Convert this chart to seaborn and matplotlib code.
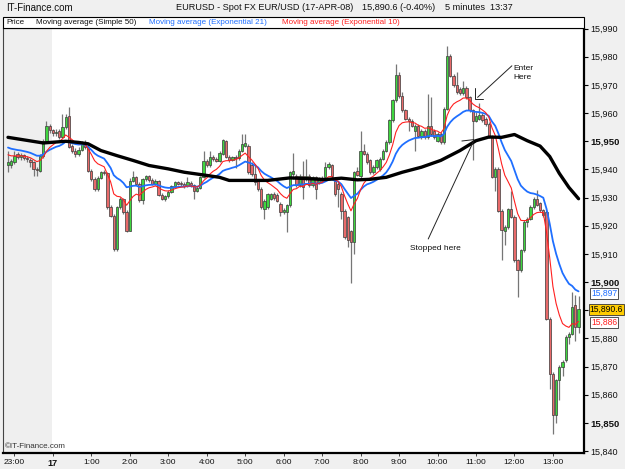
import numpy as np
import pandas as pd
import matplotlib
matplotlib.use("Agg")
import matplotlib.pyplot as plt
import matplotlib.transforms as mtransforms
from matplotlib.patches import Rectangle
import seaborn as sns

# ---------------- data (5-minute bars, 22:50 -> 13:40) ----------------
bar_open = [
    15941.5, 15941.4, 15942.5, 15945.5, 15944.3, 15945.0, 15944.0, 15943.5, 15942.5, 15940.3,
    15939.6, 15944.9, 15950.0, 15955.5, 15954.0, 15952.8, 15953.8, 15951.6, 15955.0, 15959.0,
    15948.5, 15946.5, 15945.5, 15947.0, 15949.6, 15948.0, 15939.6, 15936.6, 15933.1, 15937.0,
    15939.2, 15938.6, 15926.6, 15923.6, 15911.8, 15926.6, 15929.5, 15924.8, 15918.3, 15936.0,
    15937.2, 15935.0, 15929.0, 15936.6, 15937.5, 15936.2, 15935.0, 15935.8, 15931.0, 15929.5,
    15930.5, 15932.0, 15934.0, 15935.4, 15935.0, 15934.8, 15934.2, 15935.2, 15934.4, 15932.5,
    15933.5, 15937.2, 15943.1, 15941.5, 15944.5, 15943.8, 15943.1, 15945.5, 15950.0, 15944.5,
    15943.3, 15944.4, 15943.9, 15946.7, 15948.5, 15948.5, 15941.5, 15938.4, 15936.0, 15933.1,
    15926.0, 15926.6, 15929.5, 15931.3, 15931.0, 15927.8, 15924.8, 15924.8, 15927.2, 15938.4,
    15937.8, 15934.3, 15937.8, 15936.6, 15937.8, 15934.3, 15937.2, 15935.4, 15936.0, 15937.2,
    15940.8, 15941.4, 15936.0, 15934.8, 15931.3, 15925.4, 15923.0, 15918.0, 15914.2, 15939.5,
    15937.5, 15946.7, 15945.5, 15943.2, 15939.0, 15940.8, 15940.0, 15943.8, 15946.7, 15949.7,
    15957.4, 15964.5, 15973.5, 15966.2, 15961.0, 15958.0, 15957.3, 15953.8, 15955.6, 15952.0,
    15953.8, 15951.4, 15955.5, 15953.8, 15950.2, 15952.6, 15949.7, 15961.5, 15980.4, 15973.3,
    15970.0, 15968.5, 15967.0, 15969.0, 15965.6, 15961.0, 15957.3, 15958.0, 15959.5, 15958.0,
    15956.2, 15951.5, 15937.3, 15940.2, 15925.4, 15918.3, 15919.5, 15925.8, 15923.1, 15907.7,
    15904.2, 15911.3, 15921.3, 15922.5, 15926.6, 15929.6, 15928.0, 15925.5, 15924.9, 15887.0,
    15867.5, 15852.7, 15865.1, 15869.9, 15872.2, 15880.5, 15881.7, 15891.7, 15884.0,
]
bar_high = [
    15946.5, 15943.8, 15946.7, 15946.2, 15945.8, 15945.6, 15944.8, 15944.0, 15943.0, 15941.0,
    15945.5, 15950.8, 15957.3, 15956.0, 15954.5, 15954.2, 15954.5, 15959.7, 15959.8, 15962.0,
    15949.2, 15947.5, 15947.8, 15950.2, 15950.3, 15948.6, 15940.2, 15937.2, 15937.5, 15939.6,
    15939.9, 15939.2, 15927.3, 15924.2, 15927.0, 15930.2, 15930.0, 15925.5, 15937.0, 15939.4,
    15937.8, 15935.6, 15937.0, 15938.2, 15938.0, 15936.8, 15936.5, 15936.3, 15931.6, 15931.0,
    15932.6, 15934.5, 15936.0, 15936.0, 15935.8, 15935.6, 15937.2, 15935.8, 15935.0, 15934.2,
    15937.8, 15946.7, 15943.8, 15946.7, 15945.0, 15944.5, 15946.5, 15950.9, 15950.6, 15945.0,
    15944.9, 15945.0, 15947.2, 15952.6, 15952.6, 15949.2, 15942.6, 15942.0, 15936.6, 15933.7,
    15929.5, 15931.8, 15931.8, 15931.9, 15931.6, 15928.3, 15926.2, 15927.8, 15939.6, 15946.0,
    15938.4, 15938.4, 15943.1, 15943.7, 15938.4, 15937.8, 15937.8, 15937.2, 15937.6, 15942.5,
    15942.6, 15942.0, 15936.6, 15935.4, 15931.9, 15926.0, 15923.6, 15918.6, 15939.6, 15941.0,
    15953.8, 15949.1, 15946.1, 15943.8, 15941.4, 15943.8, 15944.4, 15947.3, 15950.3, 15958.0,
    15965.0, 15977.5, 15974.6, 15967.6, 15961.6, 15958.6, 15957.9, 15956.2, 15956.2, 15954.4,
    15954.4, 15966.8, 15965.6, 15954.4, 15953.2, 15953.2, 15962.1, 15984.0, 15981.0, 15973.9,
    15974.5, 15969.1, 15971.5, 15969.6, 15966.2, 15961.6, 15960.5, 15963.5, 15960.1, 15958.6,
    15956.8, 15952.1, 15940.8, 15940.8, 15926.0, 15920.1, 15926.4, 15932.5, 15923.7, 15908.3,
    15911.9, 15921.9, 15923.1, 15927.2, 15930.2, 15932.8, 15928.6, 15926.1, 15925.5, 15887.6,
    15868.1, 15865.7, 15870.5, 15872.2, 15881.1, 15882.3, 15896.5, 15895.5, 15895.0,
]
bar_low = [
    15939.0, 15940.5, 15941.8, 15943.8, 15943.5, 15943.3, 15942.8, 15941.0, 15937.8, 15937.5,
    15939.0, 15944.0, 15949.5, 15952.8, 15951.8, 15952.0, 15950.8, 15951.0, 15954.2, 15947.5,
    15945.8, 15944.5, 15944.8, 15946.5, 15947.3, 15939.0, 15936.0, 15932.5, 15932.5, 15936.5,
    15938.0, 15926.0, 15923.0, 15911.2, 15911.2, 15926.0, 15924.2, 15917.7, 15918.0, 15935.5,
    15934.5, 15928.5, 15927.8, 15936.0, 15935.6, 15934.5, 15934.5, 15930.5, 15929.0, 15928.8,
    15930.0, 15931.5, 15933.5, 15934.5, 15934.2, 15933.5, 15933.8, 15933.9, 15929.5, 15932.0,
    15933.0, 15936.8, 15940.8, 15941.0, 15943.0, 15942.5, 15942.8, 15945.0, 15944.0, 15942.8,
    15943.0, 15940.5, 15943.5, 15946.2, 15948.0, 15938.5, 15937.8, 15934.6, 15932.5, 15926.0,
    15922.4, 15926.0, 15929.0, 15929.2, 15928.3, 15923.6, 15924.2, 15917.7, 15926.6, 15936.5,
    15933.7, 15933.7, 15929.5, 15936.0, 15933.7, 15933.7, 15929.5, 15934.8, 15935.5, 15936.6,
    15940.2, 15937.2, 15930.7, 15926.6, 15922.4, 15915.3, 15912.4, 15899.5, 15910.0, 15937.5,
    15937.0, 15945.0, 15942.0, 15938.5, 15938.5, 15940.2, 15939.5, 15943.2, 15946.2, 15949.2,
    15957.0, 15964.0, 15965.5, 15960.5, 15957.5, 15953.8, 15955.0, 15946.7, 15951.4, 15950.8,
    15950.8, 15950.8, 15952.0, 15950.8, 15949.7, 15949.2, 15949.2, 15961.0, 15972.7, 15969.4,
    15966.8, 15966.4, 15966.5, 15965.0, 15960.5, 15943.5, 15956.8, 15957.5, 15957.0, 15955.6,
    15951.0, 15936.8, 15932.5, 15924.8, 15907.7, 15913.0, 15919.0, 15922.6, 15907.1, 15894.7,
    15903.6, 15910.7, 15919.5, 15921.9, 15926.0, 15927.0, 15925.0, 15923.2, 15886.4, 15862.0,
    15846.2, 15849.8, 15858.0, 15866.5, 15871.6, 15878.0, 15881.1, 15879.0, 15882.0,
]
bar_close = [
    15942.5, 15943.1, 15944.9, 15944.5, 15945.2, 15944.0, 15943.6, 15942.5, 15940.3, 15939.8,
    15944.9, 15950.0, 15955.5, 15954.0, 15952.8, 15953.4, 15951.6, 15955.0, 15958.5, 15947.9,
    15946.5, 15945.5, 15947.0, 15949.6, 15948.0, 15939.6, 15936.6, 15933.1, 15937.0, 15939.0,
    15938.6, 15926.6, 15923.6, 15911.8, 15926.6, 15929.5, 15924.8, 15918.3, 15936.0, 15937.2,
    15935.0, 15929.0, 15936.6, 15937.5, 15936.2, 15935.0, 15935.8, 15931.0, 15929.5, 15930.5,
    15932.0, 15934.0, 15935.4, 15935.0, 15934.8, 15934.2, 15935.4, 15934.4, 15932.5, 15933.5,
    15937.2, 15943.1, 15941.5, 15944.5, 15943.8, 15943.1, 15946.0, 15950.3, 15944.5, 15943.3,
    15944.4, 15943.9, 15946.7, 15949.1, 15949.5, 15939.0, 15938.4, 15935.4, 15933.1, 15926.6,
    15928.9, 15931.3, 15931.3, 15929.8, 15928.9, 15924.8, 15925.6, 15927.2, 15939.0, 15939.6,
    15934.3, 15937.8, 15933.7, 15937.8, 15934.3, 15937.2, 15933.1, 15936.6, 15937.0, 15940.8,
    15942.0, 15937.8, 15931.3, 15933.1, 15925.4, 15915.9, 15915.0, 15914.2, 15939.0, 15938.2,
    15946.7, 15945.5, 15942.6, 15939.0, 15940.8, 15943.2, 15943.8, 15946.7, 15949.7, 15957.4,
    15964.5, 15973.5, 15966.2, 15961.0, 15958.0, 15957.3, 15955.6, 15955.6, 15952.0, 15953.8,
    15951.4, 15955.5, 15952.5, 15951.4, 15952.6, 15949.7, 15961.5, 15980.4, 15973.3, 15970.0,
    15967.4, 15967.0, 15969.0, 15965.6, 15961.0, 15957.3, 15958.8, 15959.5, 15957.5, 15956.2,
    15951.5, 15937.3, 15940.2, 15925.4, 15918.4, 15919.5, 15925.8, 15923.1, 15907.7, 15904.2,
    15911.3, 15921.3, 15922.5, 15926.6, 15929.6, 15927.5, 15925.5, 15923.8, 15887.0, 15867.5,
    15852.7, 15865.1, 15869.9, 15871.6, 15880.5, 15881.7, 15891.1, 15884.0, 15890.6,
]
hour_labels = ["23:00", "17", "1:00", "2:00", "3:00", "4:00", "5:00", "6:00", "7:00",
               "8:00", "9:00", "10:00", "11:00", "12:00", "13:00"]
first_label_bar = 2
bars_per_hour = 12
prev_day_end_bar = 13.6

# EMA starting levels read at the left edge of the chart
ema10_seed = 15945.8
ema21_seed = 15948.3
# Simple 50 moving average
sma50_bar = [0, 11, 18, 22, 25, 29, 34, 39, 44, 50, 55, 60, 66, 69, 81, 88, 94, 99, 104,
             109, 113, 118, 123, 129, 135, 141, 146, 150, 154, 158, 162, 166, 169, 172, 175, 178]
sma50_val = [15951.4, 15949.4, 15950.0, 15949.6, 15949.1, 15946.7, 15944.9, 15943.2, 15941.4,
             15940.2, 15939.0, 15938.2, 15937.2, 15936.1, 15936.1, 15937.0, 15936.7, 15936.4,
             15936.9, 15936.3, 15936.5, 15937.2, 15939.0, 15940.8, 15943.2, 15946.7, 15950.2,
             15951.5, 15951.4, 15952.4, 15950.2, 15948.3, 15944.6, 15938.6, 15933.6, 15929.6]

last_price_text = "15,890.6"
last_price = 15890.6
ema21_last = 15897
ema10_last = 15886
ytick_vals = list(range(15840, 15991, 10))
bold_ticks = [15850, 15900, 15950]

# ---------------- style ----------------
sns.set_theme(style="white")
plt.rcParams["font.family"] = ["Liberation Sans", "DejaVu Sans"]

BG = "#f0f0f0"
GREEN = "#3fd63f"
RED = "#e86a6a"
EDGE = "#3a3a3a"
WICK = "#767676"
BLUE = "#1f6fff"
EMARED = "#ff2020"

W, H = 625, 469
fig = plt.figure(figsize=(W / 100, H / 100), dpi=100, facecolor=BG)
left_px, right_px, top_px, bot_px = 3, 584, 28.5, 453
ax = fig.add_axes([left_px / W, 1 - bot_px / H, (right_px - left_px) / W, (bot_px - top_px) / H])
ax.set_facecolor("white")

df = pd.DataFrame({"open": bar_open, "high": bar_high, "low": bar_low, "close": bar_close})
df["idx"] = np.arange(len(df))
ema10 = pd.Series([ema10_seed] + bar_close).ewm(span=10, adjust=False).mean().iloc[1:].to_numpy()
ema21 = pd.Series([ema21_seed] + bar_close).ewm(span=21, adjust=False).mean().iloc[1:].to_numpy()
df["ema10"] = ema10
df["ema21"] = ema21

xmin, xmax = -1.56, 179.7
ax.axvspan(xmin, prev_day_end_bar, color="#efefef", zorder=0, lw=0)

up = df["close"] >= df["open"]
body_bottom = np.minimum(df["open"], df["close"])
body_h = np.maximum(np.abs(df["close"] - df["open"]), 0.35)
ax.vlines(df["idx"], df["low"], df["high"], color=WICK, lw=0.9, zorder=1)
ax.bar(df["idx"], body_h, bottom=body_bottom, width=0.72,
       color=np.where(up, GREEN, RED), edgecolor=EDGE, linewidth=0.5, zorder=2)

sns.lineplot(x=sma50_bar, y=sma50_val, ax=ax, color="black", lw=2.4, zorder=4, sort=False)
sns.lineplot(data=df, x="idx", y="ema21", ax=ax, color=BLUE, lw=1.3, zorder=3)
sns.lineplot(data=df, x="idx", y="ema10", ax=ax, color=EMARED, lw=0.8, zorder=3)

ax.set_xlim(xmin, xmax)
ax.set_ylim(15839.3, 15990.05)
ax.set_xlabel("")
ax.set_ylabel("")

# axes / ticks
ax.yaxis.tick_right()
ax.set_yticks(ytick_vals)
ax.set_yticklabels([f"{v:,}" if v != 15890 else "" for v in ytick_vals])
for lab, v in zip(ax.get_yticklabels(), ytick_vals):
    lab.set_fontsize(6.8 if v in bold_ticks else 6.5)
    if v in bold_ticks:
        lab.set_fontweight("bold")
ax.tick_params(axis="y", which="both", right=True, length=3, width=0.8, color="black",
               pad=1.5, labelcolor="#111111")
tick_pos = [first_label_bar + bars_per_hour * k for k in range(len(hour_labels))]
ax.set_xticks(tick_pos)
ax.set_xticklabels(hour_labels, fontsize=6)
for lab, t in zip(ax.get_xticklabels(), hour_labels):
    if t == "17":
        lab.set_fontweight("bold")
        lab.set_fontsize(6.5)
ax.tick_params(axis="x", bottom=True, length=2, width=0.6, pad=2, labelcolor="#111111")
for side, lw, col in [("right", 1.6, "black"), ("bottom", 1.6, "black"),
                      ("left", 0.8, "#444444"), ("top", 0.8, "black")]:
    ax.spines[side].set_visible(True)
    ax.spines[side].set_linewidth(lw)
    ax.spines[side].set_color(col)

# value boxes on the right (label positions nudged slightly so they do not collide)
bt = mtransforms.blended_transform_factory(ax.transAxes, ax.transData)
xb = 1.012
box_kw = dict(boxstyle="square,pad=0.12", ec="#333333", lw=0.6)
ax.text(xb, ema21_last - 0.9, f"{ema21_last:,}", transform=bt, fontsize=6.2, color=BLUE,
        va="center", ha="left", clip_on=False, zorder=6, bbox=dict(fc="white", **box_kw))
ax.text(xb - 0.002, last_price - 0.2, last_price_text, transform=bt, fontsize=6.2, color="black",
        va="center", ha="left", clip_on=False, zorder=6, bbox=dict(fc="#ffcc00", **box_kw))
ax.text(xb, ema10_last - 0.4, f"{ema10_last:,}", transform=bt, fontsize=6.2, color=EMARED,
        va="center", ha="left", clip_on=False, zorder=6, bbox=dict(fc="white", **box_kw))

# annotations
ax.plot([157.2, 146.5], [15976.8, 15965.6], color="#222222", lw=0.7, zorder=5)
ax.plot([145.7, 145.7, 148.3], [15969.0, 15965.0, 15965.0], color="#222222", lw=0.7, zorder=5)
ax.text(157.7, 15977.0, "Enter\nHere", fontsize=6, ha="left", va="top", color="#111111",
        linespacing=1.35, zorder=6)
ax.plot([131.1, 145.2], [15915.3, 15949.9], color="#222222", lw=0.7, zorder=5)
ax.plot([141.6, 145.4], [15950.1, 15950.6], color="#222222", lw=0.7, zorder=5)
ax.text(133.2, 15911.8, "Stopped here", fontsize=6, ha="center", va="center",
        color="#111111", zorder=6)
ax.text(0.003, 0.008, "\u00a9IT-Finance.com", transform=ax.transAxes, fontsize=5.8,
        ha="left", va="bottom", color="#333333", zorder=6)

# header + legend strip
fig.text(6 / W, 1 - 8 / H, "IT-Finance.com", fontsize=7, ha="left", va="center", color="#111111")
fig.text(176 / W, 1 - 8 / H, "EURUSD - Spot FX EUR/USD (17-APR-08)", fontsize=6.6,
         ha="left", va="center", color="#111111")
fig.text(362 / W, 1 - 8 / H, "15,890.6 (-0.40%)", fontsize=6.6, ha="left", va="center", color="#111111")
fig.text(445 / W, 1 - 8 / H, "5 minutes  13:37", fontsize=6.6, ha="left", va="center", color="#111111")

fig.patches.append(Rectangle((left_px / W, 1 - top_px / H), (right_px - left_px) / W, 11 / H,
                             transform=fig.transFigure, fc="white", ec="black", lw=0.8))
ly = 1 - 23 / H
fig.text(6 / W, ly, "Price", fontsize=5.8, ha="left", va="center", color="#111111")
fig.text(36 / W, ly, "Moving average (Simple 50)", fontsize=5.8, ha="left", va="center", color="#111111")
fig.text(149 / W, ly, "Moving average (Exponential 21)", fontsize=5.8, ha="left", va="center", color=BLUE)
fig.text(282 / W, ly, "Moving average (Exponential 10)", fontsize=5.8, ha="left", va="center", color=EMARED)

fig.savefig("out.png", dpi=100, facecolor=BG)
